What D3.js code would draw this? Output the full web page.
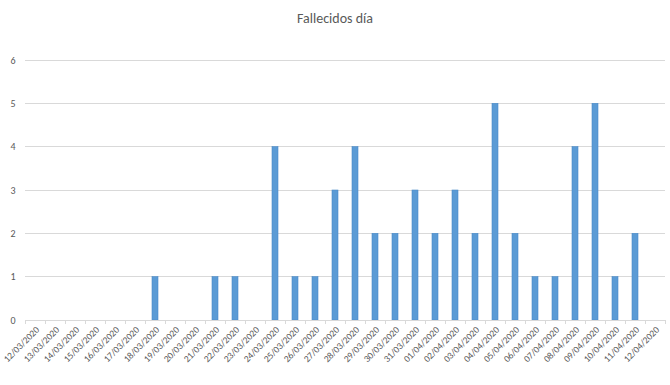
<!DOCTYPE html>
<html><head><meta charset="utf-8">
<script src="https://cdn.jsdelivr.net/npm/d3@7"></script>
<style>body{margin:0;background:#fff}svg{display:block}</style>
</head><body>
<svg id="c" width="670" height="385"></svg>
<script>
const categories = ["12/03/2020","13/03/2020","14/03/2020","15/03/2020","16/03/2020","17/03/2020","18/03/2020","19/03/2020","20/03/2020","21/03/2020","22/03/2020","23/03/2020","24/03/2020","25/03/2020","26/03/2020","27/03/2020","28/03/2020","29/03/2020","30/03/2020","31/03/2020","01/04/2020","02/04/2020","03/04/2020","04/04/2020","05/04/2020","06/04/2020","07/04/2020","08/04/2020","09/04/2020","10/04/2020","11/04/2020","12/04/2020"];
const fallecidos = [0,0,0,0,0,0,1,0,0,1,1,0,4,1,1,3,4,2,2,3,2,3,2,5,2,1,1,4,5,1,2,0];
const yTicks = [0,1,2,3,4,5,6];
const title = "Fallecidos día";

const svg = d3.select("#c");
const m = {l:25, r:5, t:60, b:65};
const W = 670, H = 385;
const x = d3.scaleBand().domain(categories).range([m.l, W - m.r]);
const y = d3.scaleLinear().domain([0,6]).range([H - m.b, m.t]);
const font = "Calibri, Carlito, 'Open Sans', sans-serif";

svg.append("text").attr("x", 335).attr("y", 23).attr("text-anchor","middle")
  .attr("font-family", font).attr("font-size", 14).attr("fill","#595959").text(title);

// gridlines
svg.append("g").selectAll("line").data(yTicks.filter(d=>d>0)).join("line")
  .attr("x1", m.l).attr("x2", W - m.r).attr("y1", d=>y(d)).attr("y2", d=>y(d))
  .attr("stroke","#d9d9d9").attr("stroke-width",1).attr("shape-rendering","crispEdges");

// y labels
svg.append("g").selectAll("text").data(yTicks).join("text")
  .attr("x", 13).attr("y", d=>y(d)+3.5).attr("text-anchor","middle")
  .attr("font-family", font).attr("font-size", 10).attr("fill","#595959").text(d=>d);

// bars
const bw = 6;
svg.append("g").selectAll("rect").data(categories).join("rect")
  .attr("x", (d)=>x(d) + x.bandwidth()/2 - bw/2)
  .attr("width", bw)
  .attr("y", (d,i)=>y(fallecidos[i]))
  .attr("height", (d,i)=>y(0)-y(fallecidos[i]))
  .attr("fill","#5b9bd5").attr("stroke","#4a8ac8").attr("stroke-width",0.6);

// x axis
const xa = svg.append("g").attr("transform",`translate(0,${y(0)})`);
xa.append("line").attr("x1", m.l).attr("x2", W - m.r).attr("stroke","#d9d9d9").attr("shape-rendering","crispEdges");
xa.selectAll("line.t").data(categories.concat([null])).join("line").attr("class","t")
  .attr("x1",(d,i)=>m.l + i*x.step()).attr("x2",(d,i)=>m.l + i*x.step())
  .attr("y1",0).attr("y2",4).attr("stroke","#d9d9d9").attr("shape-rendering","crispEdges");
xa.selectAll("text").data(categories).join("text")
  .attr("transform", d=>`translate(${x(d)+x.bandwidth()/2+2.5},8) rotate(-45)`)
  .attr("text-anchor","end").attr("dy","0.35em")
  .attr("font-family", font).attr("font-size", 9.5).attr("fill","#595959").text(d=>d);
</script>
</body></html>
